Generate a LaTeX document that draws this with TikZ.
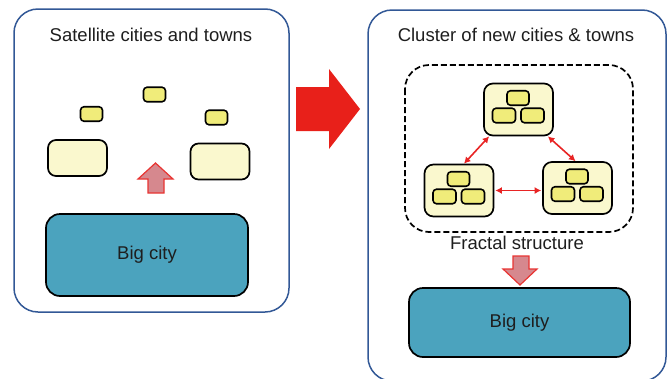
\documentclass[tikz,border=0pt]{standalone}
\usepackage{fontspec}
\setmainfont{Liberation Sans}
\usepackage{tikz}
\usetikzlibrary{arrows.meta}

\definecolor{panelblue}{RGB}{50,88,150}
\definecolor{cityblue}{RGB}{75,163,190}
\definecolor{paleyellow}{RGB}{250,248,206}
\definecolor{townyellow}{RGB}{240,236,122}
\definecolor{bigred}{RGB}{232,32,26}
\definecolor{linkred}{RGB}{232,36,36}
\definecolor{pinkfill}{RGB}{214,136,142}
\definecolor{pinkline}{RGB}{232,52,50}
\definecolor{textgray}{RGB}{30,30,30}

\begin{document}
\begin{tikzpicture}[x=1pt, y=-1pt,
every node/.style={font=\fontsize{18.5}{22}\selectfont, text=textgray, inner sep=0pt},
panel/.style={draw=panelblue, line width=1.5pt, rounded corners=24pt},
town/.style={draw=black, line width=1.6pt, fill=townyellow, rounded corners=3.5pt,
minimum width=22pt, minimum height=14.5pt},
suburb/.style={draw=black, line width=1.7pt, fill=paleyellow, rounded corners=8pt,
minimum width=59pt, minimum height=36pt},
cluster/.style={draw=black, line width=1.7pt, fill=paleyellow, rounded corners=9pt,
minimum width=69pt, minimum height=52pt},
bigcity/.style={draw=black, line width=1.7pt, fill=cityblue, rounded corners=14pt},
fatarrow/.style={fill=pinkfill, draw=pinkline, line width=1.2pt, line join=miter},
link/.style={draw=linkred, line width=1.6pt, {Latex[length=6.5pt,width=7pt]}-{Latex[length=6.5pt,width=7pt]}}]
\useasboundingbox (0,0) rectangle (672,378);

\draw[panel] (14,9) rectangle (289,312);
\draw[panel] (368,10) rectangle (666,381);

\node (titleL) at (151,35) {Satellite cities and towns};
\node (titleR) at (516,35) {Cluster of new cities \& towns};

\node[town] (townA) at (91.5,114) {};
\node[town] (townB) at (154.5,94.5) {};
\node[town] (townC) at (216.5,117.5) {};
\node[suburb] (suburbL) at (77.5,158) {};
\node[suburb] (suburbR) at (220,161.5) {};
\node[bigcity, minimum width=202pt, minimum height=82pt] (cityL) at (147,255) {Big city};
\draw[fatarrow] (148,193) -- (148,179) -- (138,179) -- (155.5,163) -- (173,179)
  -- (164,179) -- (164,193) -- cycle;

\fill[bigred] (296,87) -- (329,87) -- (329,69) -- (360,109) -- (329,149)
  -- (329,131) -- (296,131) -- cycle;

\draw[black, line width=1.7pt, dash pattern=on 6pt off 3pt, rounded corners=24pt]
  (405,65) rectangle (633,232);
\node[cluster] (top) at (518.5,109.5) {};
\node[cluster] (left) at (459,190.5) {};
\node[cluster] (right) at (577.5,188) {};
\foreach \c in {top,left,right}{
  \node[town] (\c-a) at ([shift={(-0.5,-11.5)}]\c.center) {};
  \node[town, minimum width=23pt] (\c-b) at ([shift={(-14.5,6)}]\c.center) {};
  \node[town, minimum width=23pt] (\c-c) at ([shift={(14,6)}]\c.center) {};
}
\draw[link] ([xshift=6pt]top.south west) -- ([xshift=5pt]left.north);
\draw[link] ([xshift=-6pt]top.south east) -- ([xshift=-2pt]right.north);
\draw[link] ([xshift=1pt]left.east) -- ([xshift=-1pt]left.east -| right.west);

\node (fractal) at (517,243) {Fractal structure};
\draw[fatarrow] (513,256) -- (529,256) -- (529,269) -- (537,269) -- (520,285)
  -- (503,269) -- (513,269) -- cycle;
\node[bigcity, minimum width=221pt, minimum height=69pt] (cityR) at (519.5,322.5) {Big city};
\end{tikzpicture}
\end{document}
